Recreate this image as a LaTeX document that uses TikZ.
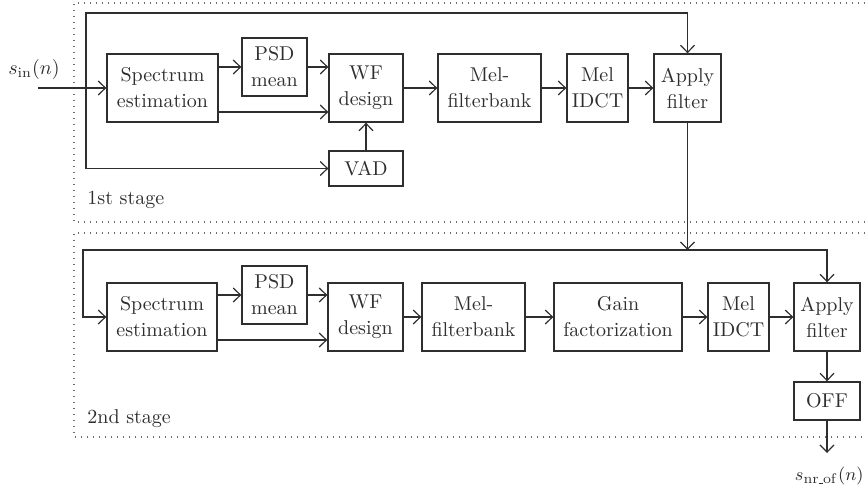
\documentclass[tikz,border=0pt]{standalone}
\usetikzlibrary{arrows.meta}
\definecolor{ink}{HTML}{2E2E2E}
\newcommand{\lowbar}{\rule[-0.3pt]{2.2pt}{0.4pt}}
\begin{document}
\begin{tikzpicture}[x=0.5pt,y=-0.5pt,
  blk/.style={draw=ink,line width=0.7pt,align=center,text=ink,inner sep=0pt,
    font=\fontsize{10}{13}\selectfont},
  flow/.style={draw=ink,line width=0.6pt,-{Straight Barb[length=3.6pt,width=7pt]}},
  wire/.style={draw=ink,line width=0.6pt},
  stagebox/.style={draw=ink!70,line width=0.7pt,dash pattern=on 0.7pt off 2.3pt},
  stagelbl/.style={anchor=base west,text=ink,inner sep=0pt}]
\useasboundingbox (0,0) rectangle (865,486);

% stage frames (open on the right)
\draw[stagebox] (865,3) -- (74,3) -- (74,222) -- (865,222);
\draw[stagebox] (865,233) -- (74,233) -- (74,437) -- (865,437);
\node[stagelbl] (lbl1) at (87,204) {1st stage};
\node[stagelbl] (lbl2) at (87,423) {2nd stage};

% ---------- first stage ----------
\node[blk,minimum width=55.5pt,minimum height=34pt] (spec1) at (162.5,88) {Spectrum\\estimation};
\node[blk,minimum width=32.5pt,minimum height=29pt] (psd1) at (274.5,67) {PSD\\mean};
\node[blk,minimum width=37pt,minimum height=34pt] (wf1) at (366,88) {WF\\design};
\node[blk,minimum width=51.5pt,minimum height=34pt] (mel1) at (489.5,88) {Mel-\\filterbank};
\node[blk,minimum width=30.5pt,minimum height=34pt] (idct1) at (597.5,88) {Mel\\IDCT};
\node[blk,minimum width=33.5pt,minimum height=34pt] (app1) at (687.5,88) {Apply\\filter};
\node[blk,minimum width=37pt,minimum height=17.5pt] (vad) at (366,168.5) {VAD};

\node[text=ink,inner sep=0pt] (sin) at (34,70) {$s_{\mathrm{in}}(n)$};
\coordinate (in1) at (38,88);
\coordinate (split1) at (86,88);

\draw[flow] (in1) -- (spec1.west);
\draw[flow] (split1) -- (86,13) -| (app1.north);
\draw[flow] (split1) |- (vad.west);
\draw[flow] (spec1.east |- psd1.west) -- (psd1.west);
\draw[flow] (spec1.east |- 0,112) -- (wf1.west |- 0,112);
\draw[flow] (psd1.east) -- (wf1.west |- psd1.east);
\draw[flow] (vad.north) -- (wf1.south);
\draw[flow] (wf1) -- (mel1);
\draw[flow] (mel1) -- (idct1);
\draw[flow] (idct1) -- (app1);

% ---------- link between stages ----------
\coordinate (join) at (687.5,250);
\draw[flow] (app1.south) -- (join);

% ---------- second stage ----------
\node[blk,minimum width=55pt,minimum height=34pt] (spec2) at (162,317) {Spectrum\\estimation};
\node[blk,minimum width=32.5pt,minimum height=29pt] (psd2) at (274.5,295) {PSD\\mean};
\node[blk,minimum width=37.5pt,minimum height=34pt] (wf2) at (365.5,317) {WF\\design};
\node[blk,minimum width=51.5pt,minimum height=34pt] (mel2) at (473.5,317) {Mel-\\filterbank};
\node[blk,minimum width=64pt,minimum height=34pt] (gain) at (618,317) {Gain\\factorization};
\node[blk,minimum width=30.5pt,minimum height=34pt] (idct2) at (738.5,317) {Mel\\IDCT};
\node[blk,minimum width=33pt,minimum height=34pt] (app2) at (827,317) {Apply\\filter};
\node[blk,minimum width=33pt,minimum height=19pt] (off) at (827,401) {OFF};

\draw[flow] (join) -- (83,250) |- (spec2.west);
\draw[flow] (join) -| (app2.north);
\draw[flow] (spec2.east |- psd2.west) -- (psd2.west);
\draw[flow] (spec2.east |- 0,340) -- (wf2.west |- 0,340);
\draw[flow] (psd2.east) -- (wf2.west |- psd2.east);
\draw[flow] (wf2) -- (mel2);
\draw[flow] (mel2) -- (gain);
\draw[flow] (gain) -- (idct2);
\draw[flow] (idct2) -- (app2);
\draw[flow] (app2) -- (off);

\coordinate (out) at (827,453);
\draw[flow] (off.south) -- (out);
\node[text=ink,inner sep=0pt,anchor=base east,font=\fontsize{9.5}{11}\selectfont]
  (sout) at (864,480) {$s_{\mathrm{nr\lowbar of}}(n)$};
\end{tikzpicture}
\end{document}
